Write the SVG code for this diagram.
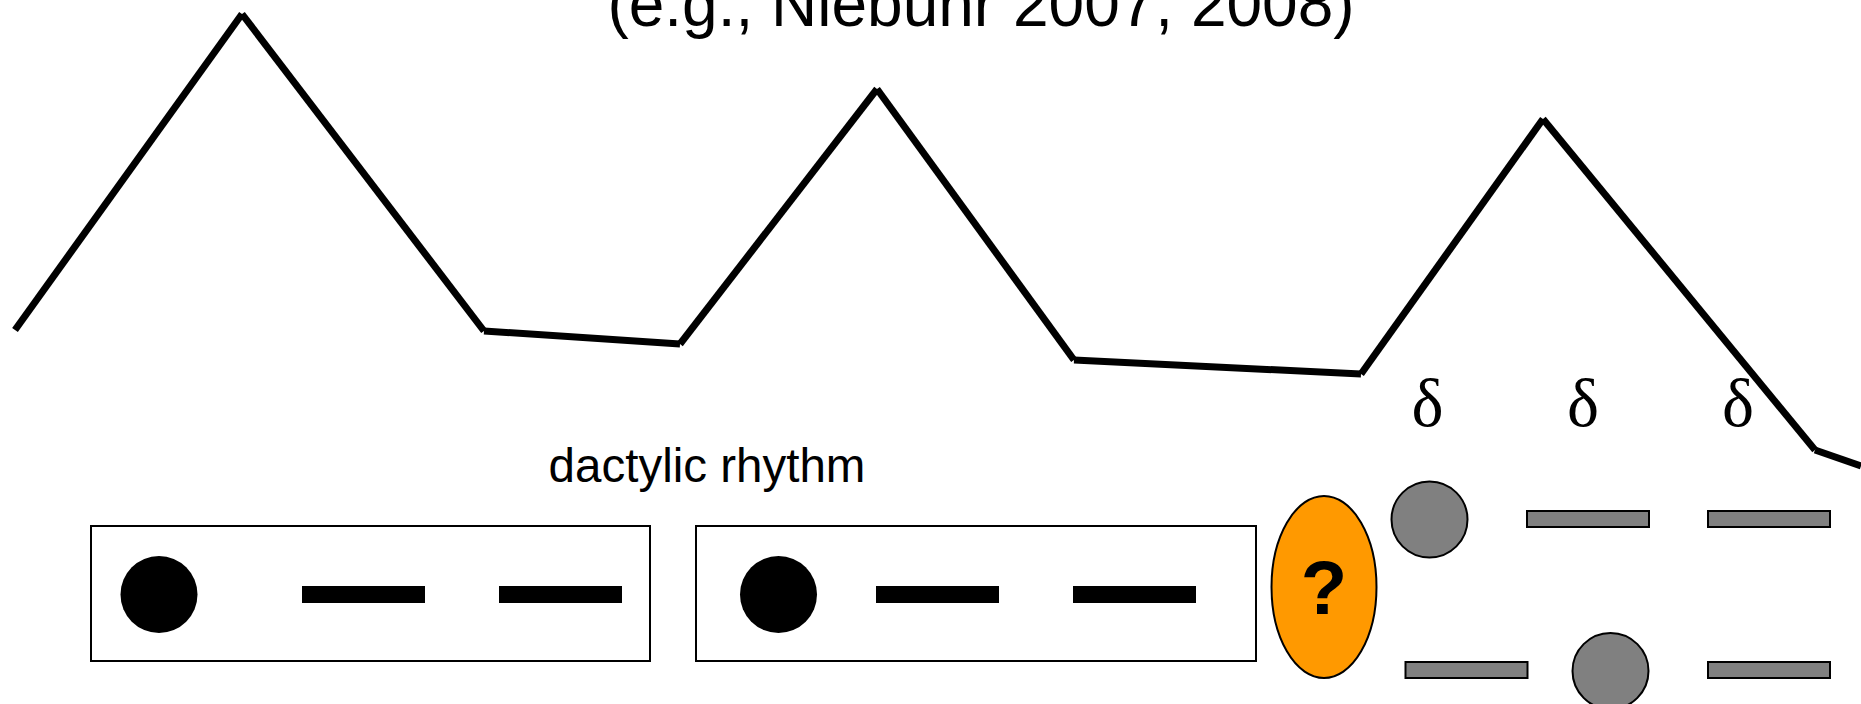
<svg xmlns="http://www.w3.org/2000/svg" width="1861" height="704" viewBox="0 0 1861 704">
<style>
.sans{font-family:"Liberation Sans",Arial,sans-serif;fill:#000}
.serif{font-family:"Liberation Serif","Times New Roman",serif;fill:#000}
.box{fill:#fff;stroke:#000;stroke-width:2}
.blk{fill:#000}
.gray{fill:#808080;stroke:#000;stroke-width:2}
.seg{fill:none;stroke:#000;stroke-width:7;stroke-linecap:butt}
</style>
<rect width="1861" height="704" fill="#fff"/>
<text class="sans" x="981" y="26" font-size="64" text-anchor="middle">(e.g., Niebuhr 2007, 2008)</text>
<g id="connectors">
<line class="seg" x1="15" y1="330" x2="242" y2="14"/>
<line class="seg" x1="242" y1="14" x2="484" y2="331"/>
<line class="seg" x1="484" y1="331" x2="680" y2="344"/>
<line class="seg" x1="680" y1="344" x2="877" y2="89"/>
<line class="seg" x1="877" y1="89" x2="1074" y2="360"/>
<line class="seg" x1="1074" y1="360" x2="1361" y2="374"/>
<line class="seg" x1="1361" y1="374" x2="1543" y2="119"/>
<line class="seg" x1="1543" y1="119" x2="1815" y2="450"/>
<line class="seg" x1="1815" y1="450" x2="1861" y2="466"/>
</g>
<text class="sans" x="707" y="482" font-size="47.5" text-anchor="middle">dactylic rhythm</text>
<g id="foot1">
<rect class="box" x="91" y="526" width="559" height="135"/>
<circle class="blk" cx="159" cy="594.5" r="38.5"/>
<rect class="blk" x="302" y="586" width="123" height="17"/>
<rect class="blk" x="499" y="586" width="123" height="17"/>
</g>
<g id="foot2">
<rect class="box" x="696" y="526" width="560" height="135"/>
<circle class="blk" cx="778.5" cy="594.5" r="38.5"/>
<rect class="blk" x="876" y="586" width="123" height="17"/>
<rect class="blk" x="1073" y="586" width="123" height="17"/>
</g>
<g id="question">
<ellipse cx="1324" cy="587" rx="52.5" ry="91" fill="#FF9900" stroke="#000" stroke-width="2"/>
<text class="sans" x="1324" y="614" font-size="76" font-weight="bold" text-anchor="middle">?</text>
</g>
<g id="deltas">
<text class="serif" x="1427.5" y="426" font-size="68" text-anchor="middle">δ</text>
<text class="serif" x="1583" y="426" font-size="68" text-anchor="middle">δ</text>
<text class="serif" x="1738" y="426" font-size="68" text-anchor="middle">δ</text>
</g>
<g id="option1">
<circle class="gray" cx="1429.5" cy="519.5" r="38"/>
<rect class="gray" x="1527" y="511" width="122" height="16"/>
<rect class="gray" x="1708" y="511" width="122" height="16"/>
</g>
<g id="option2">
<rect class="gray" x="1405.5" y="662" width="122" height="16"/>
<circle class="gray" cx="1610.5" cy="671" r="38"/>
<rect class="gray" x="1708" y="662" width="122" height="16"/>
</g>
</svg>
